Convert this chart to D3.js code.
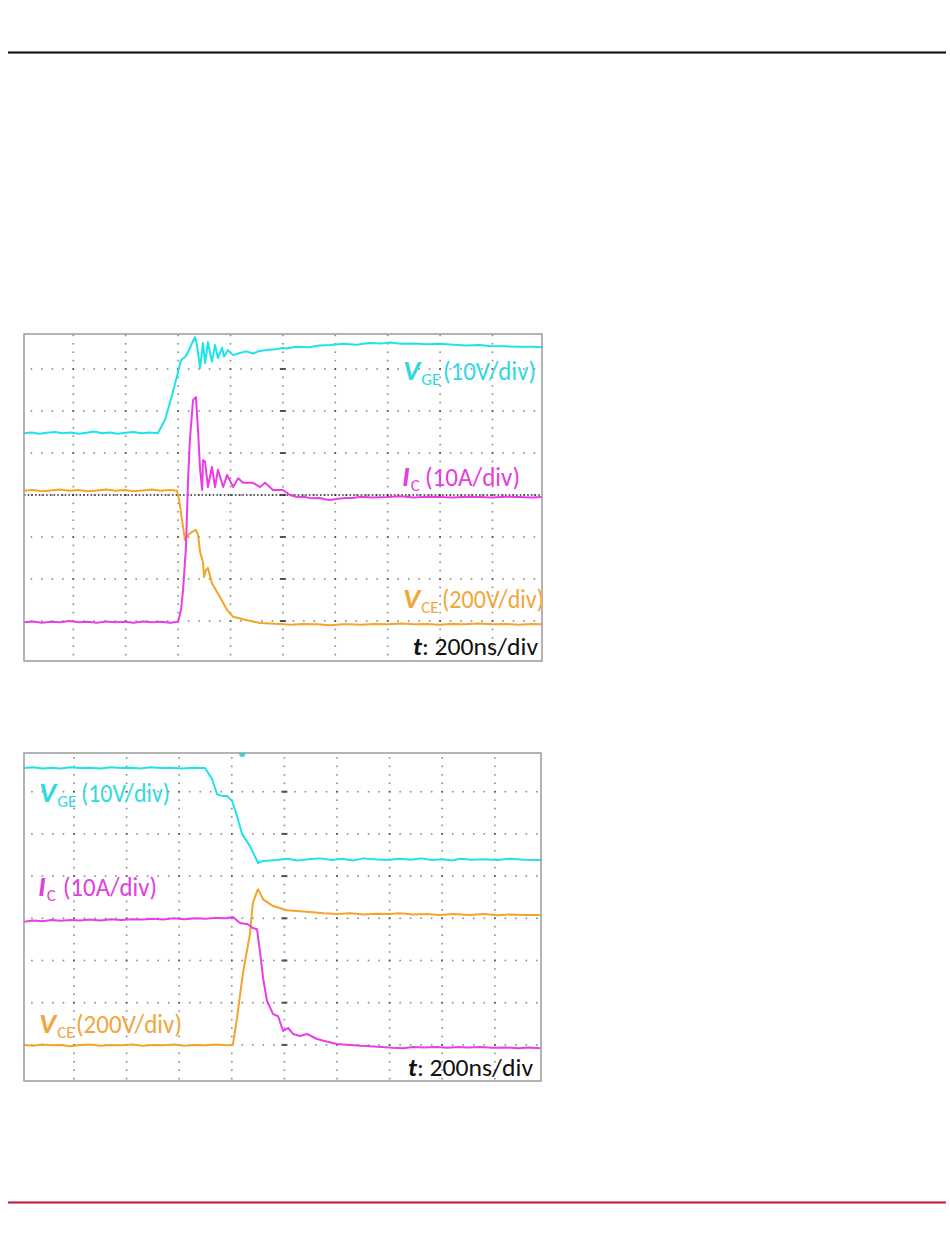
<!DOCTYPE html>
<html><head><meta charset="utf-8">
<script src="https://cdn.jsdelivr.net/npm/d3@7"></script>
<style>
html,body{margin:0;padding:0;background:#fff;}
svg{display:block;}
text{font-family:Carlito,Calibri,Lato,sans-serif;}
</style></head>
<body>
<script>
// ---------- DATA (time in ns, value in screen divisions from bottom) ----------
const timeDomain = [0, 2000];          // 200 ns/div, 10 divisions
const divDomain = [0, 8];              // 8 vertical divisions

// Turn-on waveform
const onVGE = [[12,5.47],[40,5.49],[70,5.46],[100,5.48],[130,5.50],[160,5.47],[190,5.49],[220,5.46],[250,5.48],[280,5.51],[310,5.47],[340,5.49],[370,5.46],[400,5.48],[430,5.50],[460,5.47],[490,5.49],[523,5.47],
 [550,5.79],[577,6.38],[600,6.93],[611,7.21],[630,7.31],[645,7.5],[664,7.76],[672,7.57],[684,7.02],[695,7.62],[703,7.14],[714,7.64],[729,7.17],[741,7.57],[752,7.26],[768,7.5],[775,7.29],[790,7.45],[810,7.33],
 [836,7.38],[860,7.42],[886,7.37],[910,7.43],[939,7.45],[970,7.47],[1000,7.5],[1016,7.49],[1050,7.53],[1100,7.52],[1140,7.56],[1180,7.57],[1230,7.6],[1280,7.58],[1330,7.62],[1380,7.61],[1409,7.63],[1450,7.6],[1500,7.61],[1550,7.59],[1600,7.6],[1650,7.58],[1700,7.56],[1750,7.57],[1790,7.55],[1850,7.54],[1900,7.53],[1950,7.53],[1990,7.52]];
const onIC = [[12,0.97],[45,0.99],[80,0.96],[115,0.98],[150,0.97],[185,1.0],[220,0.97],[255,0.98],[290,0.96],[325,0.99],[360,0.97],[395,0.98],[430,0.96],[465,0.99],[500,0.97],[535,0.98],[570,0.96],[600,0.98],
 [611,1.26],[619,1.74],[630,2.76],[638,4.36],[645,5.31],[657,6.26],[668,6.33],[676,5.55],[684,4.6],[692,4.12],[695,4.83],[703,4.79],[714,4.19],[729,4.67],[741,4.19],[752,4.6],[772,4.19],[787,4.48],[810,4.19],[829,4.4],[848,4.29],[886,4.29],[913,4.19],[932,4.29],[962,4.12],[1000,4.12],
 [1027,4.0],[1050,3.96],[1084,3.95],[1110,3.92],[1141,3.93],[1160,3.9],[1180,3.88],[1210,3.91],[1240,3.93],[1267,3.93],[1300,3.96],[1340,3.94],[1397,3.95],[1450,3.97],[1500,3.94],[1550,3.96],[1600,3.95],[1650,3.94],[1700,3.96],[1750,3.95],[1800,3.94],[1850,3.96],[1900,3.95],[1950,3.94],[1990,3.95]];
const onVCE = [[12,4.1],[45,4.12],[80,4.09],[115,4.11],[150,4.13],[185,4.1],[220,4.12],[255,4.09],[290,4.11],[325,4.13],[360,4.1],[395,4.12],[430,4.09],[465,4.11],[500,4.13],[535,4.1],[570,4.12],[596,4.1],
 [604,3.88],[615,3.4],[626,2.93],[638,3.05],[653,3.12],[668,3.17],[676,3.05],[684,2.64],[695,2.4],[699,2.05],[706,2.21],[714,2.26],[729,1.9],[760,1.57],[787,1.26],[810,1.1],[863,1.02],[913,0.95],
 [989,0.93],[1030,0.91],[1080,0.93],[1130,0.92],[1180,0.9],[1230,0.92],[1256,0.92],[1300,0.91],[1350,0.93],[1400,0.92],[1450,0.94],[1500,0.92],[1550,0.93],[1600,0.91],[1638,0.93],[1700,0.92],[1750,0.94],[1800,0.92],[1850,0.93],[1900,0.91],[1950,0.93],[1990,0.92]];

// Turn-off waveform
const offVGE = [[10,7.56],[45,7.58],[80,7.55],[115,7.57],[150,7.55],[185,7.58],[223,7.56],[260,7.57],[300,7.55],[340,7.58],[380,7.56],[420,7.57],[451,7.55],[490,7.58],[530,7.56],[570,7.57],[610,7.55],[650,7.57],[698,7.56],
 [725,7.3],[744,6.94],[763,6.9],[782,6.9],[801,6.78],[820,6.42],[839,6.0],[869,5.71],[900,5.31],[919,5.36],
 [972,5.38],[1010,5.41],[1050,5.37],[1090,5.4],[1135,5.42],[1180,5.38],[1220,5.41],[1260,5.37],[1300,5.42],[1340,5.4],[1390,5.38],[1439,5.41],[1480,5.39],[1520,5.42],[1560,5.38],[1600,5.4],[1640,5.37],[1668,5.41],[1710,5.39],[1760,5.4],[1810,5.38],[1860,5.41],[1910,5.39],[1976,5.38]];
const offIC = [[10,3.92],[45,3.95],[80,3.93],[115,3.96],[150,3.94],[185,3.96],[223,3.95],[260,3.97],[300,3.95],[340,3.98],[380,3.96],[420,3.98],[460,3.97],[500,3.99],[540,3.97],[580,4.0],[620,3.98],[660,4.0],[700,3.99],[740,4.01],[780,4.0],[804,4.03],
 [831,3.89],[861,3.86],[880,3.77],[896,3.74],[907,3.22],[919,2.58],[934,2.04],[957,1.73],[976,1.68],[995,1.33],[1014,1.4],[1033,1.26],[1059,1.21],[1086,1.26],[1124,1.14],[1160,1.08],[1200,1.02],
 [1250,1.0],[1290,0.98],[1325,0.97],[1370,0.95],[1410,0.93],[1451,0.92],[1490,0.95],[1530,0.94],[1580,0.95],[1620,0.93],[1660,0.95],[1700,0.94],[1744,0.95],[1790,0.93],[1840,0.94],[1890,0.92],[1930,0.94],[1972,0.92]];
const offVCE = [[10,1.0],[45,0.98],[80,1.01],[115,0.99],[150,1.0],[185,0.97],[223,1.0],[260,1.01],[300,0.98],[340,1.0],[380,0.99],[420,1.01],[460,0.98],[500,1.0],[540,0.99],[580,1.01],[620,0.98],[660,1.0],[700,0.99],[740,1.01],[780,0.99],[804,1.0],
 [820,1.64],[842,2.68],[869,3.63],[880,4.36],[896,4.64],[900,4.69],[919,4.45],[957,4.29],[1010,4.19],[1097,4.15],[1150,4.12],[1200,4.1],
 [1250,4.12],[1300,4.09],[1350,4.11],[1400,4.1],[1439,4.12],[1490,4.09],[1540,4.1],[1590,4.08],[1640,4.1],[1705,4.08],[1760,4.1],[1810,4.07],[1860,4.09],[1910,4.08],[1972,4.08]];

const labelVGE = ["V", "GE", "(10V/div)"];
const labelIC  = ["I", "C", "(10A/div)"];
const labelVCE = ["V", "CE", "(200V/div)"];
const labelT   = ["t", ": 200ns/div"];

// ---------- STYLE ----------
const colVGE = "#1ee3ea", colIC = "#e83de8", colVCE = "#f5a42a";
const txtVGE = "#33d8e2", txtIC = "#e040de", txtVCE = "#f2a63c";

const svg = d3.select("body").append("svg").attr("width", 950).attr("height", 1260);

// header/footer rules
svg.append("line").attr("x1",8).attr("x2",946).attr("y1",52.5).attr("y2",52.5)
  .attr("stroke","#999").attr("stroke-width",3);
svg.append("line").attr("x1",8).attr("x2",946).attr("y1",52.5).attr("y2",52.5)
  .attr("stroke","#111").attr("stroke-width",1.6);
svg.append("line").attr("x1",8).attr("x2",946).attr("y1",1202.5).attr("y2",1202.5)
  .attr("stroke","#c3123c").attr("stroke-width",2);

const charts = [
  {id:"on", gridTop:327, x0:20.9, dx:52.4, dy:42, frame:[24,334,542,661], blackRow:true,
   series:[[onVCE,colVCE],[onIC,colIC],[onVGE,colVGE]],
   labels:[{t:labelVGE,c:txtVGE,x:403,y:380,px:443,w:93},{t:labelIC,c:txtIC,x:402,y:486,px:425,w:95},{t:labelVCE,c:txtVCE,x:403,y:608,px:442,w:102}],
   tPos:[413,655,125]},
  {id:"off", gridTop:749.5, x0:21.4, dx:52.6, dy:42.2, frame:[24,753,541,1081], blackRow:false,
   series:[[offVGE,colVGE],[offVCE,colVCE],[offIC,colIC]],
   labels:[{t:labelVGE,c:txtVGE,x:39,y:802,px:81,w:89},{t:labelIC,c:txtIC,x:38,y:896,px:63,w:94},{t:labelVCE,c:txtVCE,x:39,y:1033,px:76,w:106}],
   tPos:[408,1076,125], marker:[840,7.85]}
];

charts.forEach(ch => {
  const x = d3.scaleLinear().domain(timeDomain).range([ch.x0, ch.x0 + 10*ch.dx]);
  const y = d3.scaleLinear().domain(divDomain).range([ch.gridTop + 8*ch.dy, ch.gridTop]);
  const [fx0, fy0, fx1, fy1] = ch.frame;
  const g = svg.append("g");
  g.append("clipPath").attr("id","clip-"+ch.id).append("rect")
    .attr("x",fx0).attr("y",fy0).attr("width",fx1-fx0).attr("height",fy1-fy0);
  const inner = g.append("g").attr("clip-path",`url(#clip-${ch.id})`);

  // grid dots: along each major line, a dot every 1/5 division
  const majorT = d3.range(1, 10).map(i => i*200);
  const majorV = d3.range(1, 8);
  const minorT = d3.range(0, 2001, 40);
  const minorV = d3.range(0, 8.01, 0.2);
  const dots = [];
  majorV.forEach(v => minorT.forEach(t => dots.push([t, v])));
  majorT.forEach(t => minorV.forEach(v => dots.push([t, v])));
  inner.selectAll("rect.dot").data(dots).join("rect").attr("class","dot")
    .attr("x", d => x(d[0]) - 0.8).attr("y", d => y(d[1]) - 0.8)
    .attr("width",1.6).attr("height",1.6)
    .attr("fill", d => (d[0] % 200 === 0 && Math.abs(d[1]-Math.round(d[1]))<1e-6) ? "#555" : "#8a8a8a");
  // center column tick marks
  inner.selectAll("rect.ctick").data(majorV).join("rect").attr("class","ctick")
    .attr("x", x(1000) - 3).attr("y", d => y(d) - 1).attr("width",6).attr("height",2).attr("fill","#555");

  if (ch.blackRow) {
    inner.append("line").attr("x1", fx0).attr("x2", fx1).attr("y1", y(4)).attr("y2", y(4))
      .attr("stroke","#222").attr("stroke-width",1.4).attr("stroke-dasharray","1.5,2.2");
  }

  const line = d3.line().x(d => x(d[0])).y(d => y(d[1]));
  ch.series.forEach(([data, col]) => {
    inner.append("path").datum(data).attr("d", line).attr("fill","none")
      .attr("stroke", col).attr("stroke-width",2).attr("stroke-linejoin","round");
  });

  if (ch.marker) {
    inner.append("ellipse").attr("cx", x(ch.marker[0])).attr("cy", fy0 + 1.5)
      .attr("rx",3).attr("ry",2.5).attr("fill", colVGE);
  }

  g.append("rect").attr("x",fx0).attr("y",fy0).attr("width",fx1-fx0).attr("height",fy1-fy0)
    .attr("fill","none").attr("stroke","#9a9a9a").attr("stroke-width",1.5);

  ch.labels.forEach(L => {
    const t = g.append("text").attr("x", L.x).attr("y", L.y).attr("fill", L.c).attr("font-size", 26);
    t.append("tspan").text(L.t[0]).attr("font-weight","bold").attr("font-style","italic").attr("font-size",29);
    t.append("tspan").text(L.t[1]).attr("font-size",17).attr("dy",5).attr("dx",1);
    t.append("tspan").text(L.t[2]).attr("x", L.px).attr("dy",-5)
      .attr("textLength", L.w).attr("lengthAdjust","spacingAndGlyphs");
  });
  const tt = g.append("text").attr("x", ch.tPos[0]).attr("y", ch.tPos[1])
    .attr("fill","#111").attr("font-size",25)
    .attr("textLength", ch.tPos[2]).attr("lengthAdjust","spacingAndGlyphs");
  tt.append("tspan").text(labelT[0]).attr("font-weight","bold").attr("font-style","italic");
  tt.append("tspan").text(labelT[1]);
});
</script>
</body></html>
